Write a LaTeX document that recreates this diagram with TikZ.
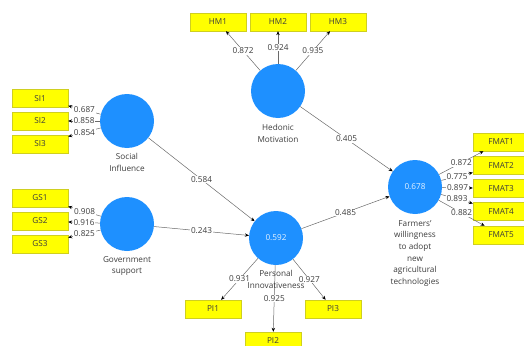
\documentclass[tikz,border=0pt]{standalone}
\usepackage{fontspec}
\setmainfont{Open Sans}
\usetikzlibrary{positioning,arrows.meta}
\definecolor{lvfill}{HTML}{1E90FF}
\definecolor{mvfill}{HTML}{FFFF00}
\definecolor{mvdraw}{HTML}{CFCF20}
\definecolor{linkline}{HTML}{6A6A6A}
\definecolor{labeltext}{HTML}{3C3C3C}
\newcommand{\plsfont}{\fontsize{8.2}{11.6}\selectfont}
\tikzset{
  latent/.style={circle, fill=lvfill, minimum size=54pt, inner sep=0pt,
                 text=white!88!lvfill, font=\plsfont},
  manifest/.style={draw=mvdraw, fill=mvfill, minimum width=56pt, minimum height=18pt,
                   inner sep=0pt, font=\plsfont, text=labeltext},
  lvname/.style={align=center, inner sep=0pt, font=\plsfont, text=labeltext},
  coef/.style={fill=white, inner sep=0.8pt, font=\plsfont, text=labeltext},
  link/.style={draw=linkline, line width=0.5pt, -{Stealth[length=4pt, width=3.4pt, black]}},
}

\begin{document}
\begin{tikzpicture}[x=1pt, y=-1pt]
    \useasboundingbox (0,0) rectangle (524,345);
    % latent variables
    \node[latent] (si) at (127,121) {};
    \node[latent] (gs) at (127,224) {};
    \node[latent] (hm) at (278,91) {};
    \node[latent] (pi) at (276,238) {0.592};
    \node[latent] (fw) at (415,187) {0.678};
    % indicators
    \node[manifest] (si1) at (40,98.5) {SI1};
    \node[manifest] (si2) at (40,121) {SI2};
    \node[manifest] (si3) at (40,144) {SI3};
    \node[manifest] (gs1) at (40,198) {GS1};
    \node[manifest] (gs2) at (40,221) {GS2};
    \node[manifest] (gs3) at (40,244) {GS3};
    \node[manifest] (hm1) at (218,22) {HM1};
    \node[manifest] (hm2) at (278,22) {HM2};
    \node[manifest] (hm3) at (338,22) {HM3};
    \node[manifest] (pi1) at (213,309) {PI1};
    \node[manifest] (pi2) at (273,341) {PI2};
    \node[manifest] (pi3) at (333,309) {PI3};
    \node[manifest] (fmat1) at (501,142) {FMAT1};
    \node[manifest] (fmat2) at (501,165.5) {FMAT2};
    \node[manifest] (fmat3) at (501,188.5) {FMAT3};
    \node[manifest] (fmat4) at (501,211.5) {FMAT4};
    \node[manifest] (fmat5) at (501,235) {FMAT5};
    % outer loadings
    \draw[link] (si) -- (si1) node[coef, midway] {0.687};
    \draw[link] (si) -- (si2) node[coef, midway] {0.858};
    \draw[link] (si) -- (si3) node[coef, midway] {0.854};
    \draw[link] (gs) -- (gs1) node[coef, midway] {0.908};
    \draw[link] (gs) -- (gs2) node[coef, midway] {0.916};
    \draw[link] (gs) -- (gs3) node[coef, midway] {0.825};
    \draw[link] (hm) -- (hm1) node[coef, midway] {0.872};
    \draw[link] (hm) -- (hm2) node[coef, midway] {0.924};
    \draw[link] (hm) -- (hm3) node[coef, midway] {0.935};
    \draw[link] (pi) -- (pi1) node[coef, midway] {0.931};
    \draw[link] (pi) -- (pi2) node[coef, midway] {0.925};
    \draw[link] (pi) -- (pi3) node[coef, midway] {0.927};
    \draw[link] (fw) -- (fmat1) node[coef, midway] {0.872};
    \draw[link] (fw) -- (fmat2) node[coef, midway] {0.775};
    \draw[link] (fw) -- (fmat3) node[coef, midway] {0.897};
    \draw[link] (fw) -- (fmat4) node[coef, midway] {0.893};
    \draw[link] (fw) -- (fmat5) node[coef, midway] {0.882};
    % inner model
    \draw[link] (si) -- (pi) node[coef, midway] {0.584};
    \draw[link] (gs) -- (pi) node[coef, midway] {0.243};
    \draw[link] (hm) -- (fw) node[coef, midway] {0.405};
    \draw[link] (pi) -- (fw) node[coef, midway] {0.485};
    % construct names
    \node[lvname, below=5pt of si] (siname) {Social\\Influence};
    \node[lvname, below=5pt of gs] (gsname) {Government\\support};
    \node[lvname, below=6pt of hm] (hmname) {Hedonic\\Motivation};
    \node[lvname, below=5pt of pi] (piname) {Personal\\Innovativeness};
    \node[lvname, below=6pt of fw] (fwname) {Farmers'\\willingness\\to adopt\\new\\agricultural\\technologies};
\end{tikzpicture}
\end{document}
